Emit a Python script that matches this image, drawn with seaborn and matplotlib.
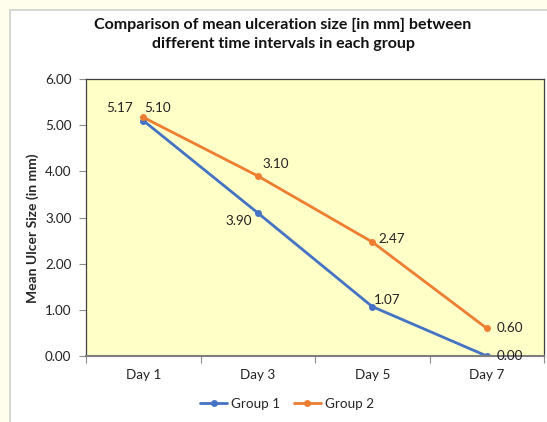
import matplotlib
matplotlib.use("Agg")
import matplotlib.pyplot as plt
import seaborn as sns
import pandas as pd
from matplotlib.patches import Rectangle

days = ["Day 1", "Day 3", "Day 5", "Day 7"]
group1 = [5.10, 3.10, 1.07, 0.00]
group2 = [5.17, 3.90, 2.47, 0.60]
group1_labels = ["5.10", "3.90", "1.07", "0.00"]
group2_labels = ["5.17", "3.10", "2.47", "0.60"]
yticks = [0, 1, 2, 3, 4, 5, 6]

sns.set_theme(style="white")
plt.rcParams["font.family"] = ["Lato", "DejaVu Sans"]

df = pd.DataFrame({
    "Day": days * 2,
    "Size": group1 + group2,
    "Group": ["Group 1"] * 4 + ["Group 2"] * 4,
})

W, H = 547, 422
fig = plt.figure(figsize=(W / 100, H / 100), dpi=100)
fig.patch.set_facecolor("#FFFDEB")
fig.patches.append(Rectangle((10 / W, -0.1), 1.2, 1 - 10 / H + 0.1, transform=fig.transFigure,
                             facecolor="white", edgecolor="#D0D0D0", linewidth=1.2, zorder=-10))

ax = fig.add_axes([86 / W, 1 - 356 / H, (544 - 86) / W, (356 - 79) / H])
ax.set_facecolor("#FFFFC8")

palette = {"Group 1": "#4472C4", "Group 2": "#ED7D31"}
sns.lineplot(data=df, x="Day", y="Size", hue="Group", palette=palette, marker="o",
             markersize=5, markeredgewidth=0, linewidth=2, sort=False, ax=ax, legend=True)

ax.set_xlim(-0.5, 3.5)
ax.set_ylim(0, 6)
ax.set_yticks(yticks)
ax.set_yticklabels([f"{v:.2f}" for v in yticks], fontsize=9.7, color="#222222")
ax.set_xticks(range(len(days)))
ax.set_xticklabels(days, fontsize=9.7, color="#222222")
ax.set_xticks([-0.5, 0.5, 1.5, 2.5, 3.5], minor=True)
ax.tick_params(axis="x", which="major", length=0, pad=9.5)
ax.tick_params(axis="x", which="minor", length=5, width=0.8, color="#8C8C8C", direction="out", bottom=True)
ax.tick_params(axis="y", which="major", length=5, width=0.8, color="#8C8C8C", direction="out", pad=5.5, left=True)
ax.set_xlabel("")
ax.set_ylabel("Mean Ulcer Size (in mm)", fontsize=10, fontweight="bold")
ax.yaxis.set_label_coords((39 - 86) / 458, (356 - 228) / 277)
for s in ["top", "right", "left"]:
    ax.spines[s].set_visible(True)
    ax.spines[s].set_color("#404040")
    ax.spines[s].set_linewidth(0.9)
ax.spines["bottom"].set_color("#7F7F7F")
ax.spines["bottom"].set_linewidth(1.5)

off1 = [(14, 13), (-19, -8), (15, 7), (23, 0)]
off2 = [(-24, 9), (18, 12), (19, 3), (23, 0)]
for i in range(4):
    ax.annotate(group1_labels[i], (i, group1[i]), xytext=off1[i], textcoords="offset pixels",
                ha="center", va="center", fontsize=9.7, color="#222222")
    ax.annotate(group2_labels[i], (i, group2[i]), xytext=off2[i], textcoords="offset pixels",
                ha="center", va="center", fontsize=9.7, color="#222222")

ax.legend(loc="center", bbox_to_anchor=(287 / W, 1 - 404 / H), bbox_transform=fig.transFigure,
          ncol=2, frameon=False, fontsize=9.7, handlelength=2.0, columnspacing=1.0, handletextpad=0.3)

fig.text(283 / W, 1 - 34 / H,
         "Comparison of mean ulceration size [in mm] between\ndifferent time intervals in each group",
         ha="center", va="center", fontsize=11.5, fontweight="bold", color="#111111", linespacing=1.45)

fig.savefig("out.png", dpi=100, facecolor=fig.get_facecolor())
